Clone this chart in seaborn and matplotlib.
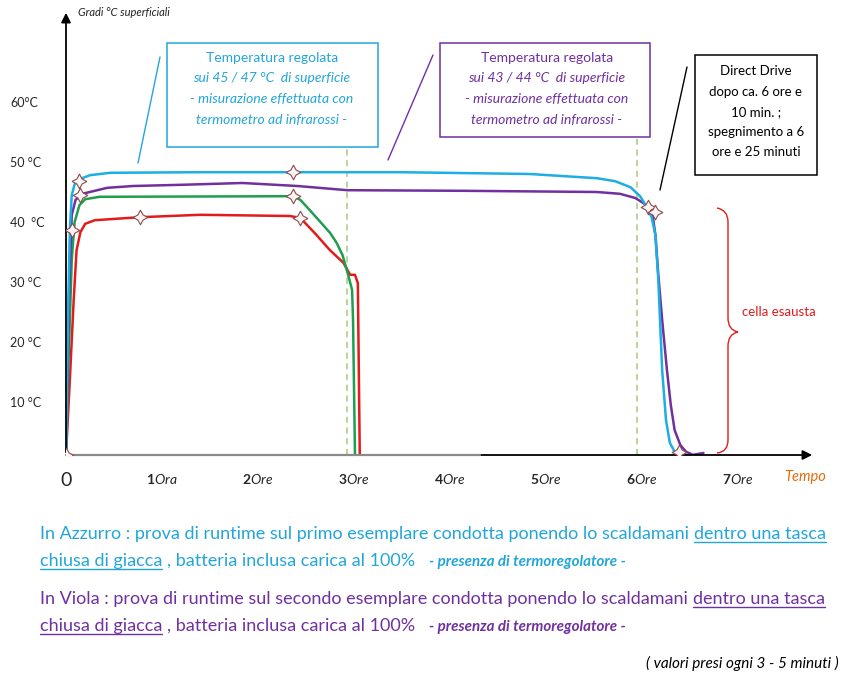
import matplotlib
matplotlib.use("Agg")
import matplotlib.pyplot as plt
import matplotlib.transforms as mtransforms
from matplotlib.lines import Line2D
from matplotlib.patches import Rectangle, PathPatch
from matplotlib.path import Path
import seaborn as sns

# ---- dati (ore, gradi °C) ----
azzurro_ore = [0, 0.02, 0.04, 0.06, 0.09, 0.15, 0.25, 0.46, 1.4, 2.36, 3.48, 4.83, 5.53, 5.72, 5.88,
               5.98, 6.05, 6.1, 6.14, 6.17, 6.21, 6.25, 6.29, 6.34, 6.4, 6.47]
azzurro_temp = [1.2, 23.7, 38.7, 44.5, 46.3, 47.2, 47.8, 48.2, 48.3, 48.3, 48.3, 48.0, 47.3, 46.8, 45.8,
                44.3, 42.5, 40.8, 37.8, 30.3, 15.3, 7.0, 3.2, 1.7, 1.2, 1.2]

viola_ore = [0, 0.03, 0.06, 0.1, 0.17, 0.43, 0.7, 1.2, 1.84, 2.41, 2.93, 4.14, 5.53, 5.77, 5.93, 6.01,
             6.08, 6.11, 6.14, 6.17, 6.21, 6.26, 6.3, 6.34, 6.4, 6.46, 6.53, 6.64]
viola_temp = [1.2, 27.0, 41.2, 43.7, 44.7, 45.7, 46.0, 46.2, 46.5, 46.0, 45.3, 45.2, 45.0, 44.7, 44.0, 43.2,
              42.3, 41.2, 37.8, 31.2, 23.7, 15.3, 9.5, 5.3, 2.8, 1.7, 1.2, 1.5]

verde_ore = [0, 0.03, 0.06, 0.09, 0.14, 0.2, 0.35, 2.36, 2.44, 2.51, 2.65, 2.75, 2.82, 2.88, 2.93, 2.98,
             2.99, 3.01]
verde_temp = [1.2, 18.7, 33.7, 40.0, 42.8, 43.8, 44.2, 44.3, 43.7, 42.5, 40.0, 38.2, 36.5, 34.5, 31.7, 28.7,
              23.7, 1.2]

rosso_ore = [0, 0.04, 0.08, 0.11, 0.15, 0.2, 0.3, 0.77, 1.4, 2.33, 2.44, 2.6, 2.75, 2.89, 2.96, 3.01,
             3.04, 3.06]
rosso_temp = [1.2, 13.7, 27.0, 35.3, 38.3, 39.7, 40.3, 40.8, 41.2, 41.0, 40.7, 38.0, 35.3, 33.2, 31.2,
              31.2, 29.8, 1.2]

# misure (stelline)
misure_ore = [0, 0.06, 0.14, 0.15, 0.77, 2.36, 2.36, 2.44, 6.06, 6.14, 6.39]
misure_temp = [1.2, 38.7, 46.8, 44.5, 40.8, 48.3, 44.3, 40.7, 42.5, 41.7, 1.7]

riferimenti_ore = [2.93, 5.95]

ore_ticks = [0, 1, 2, 3, 4, 5, 6, 7]
ore_labels = ["0", r"$\mathbf{1}\mathit{Ora}$", r"$\mathbf{2}\mathit{Ore}$", r"$\mathbf{3}\mathit{Ore}$",
              r"$\mathbf{4}\mathit{Ore}$", r"$\mathbf{5}\mathit{Ore}$", r"$\mathbf{6}\mathit{Ore}$",
              r"$\mathbf{7}\mathit{Ore}$"]
gradi_ticks = [10, 20, 30, 40, 50, 60]
gradi_labels = ["10 °C", "20 °C", "30 °C", "40  °C", "50 °C", "60°C"]

AZZURRO = "#1DAEE3"
VIOLA = "#7030A0"
VERDE = "#1E9E4E"
ROSSO = "#E31B1B"
TESTO_AZZ = "#22A6DA"

sns.set_style("white")
plt.rcParams["font.family"] = ["Lato", "DejaVu Sans"]
plt.rcParams["mathtext.fontset"] = "custom"
plt.rcParams["mathtext.rm"] = "Lato"
plt.rcParams["mathtext.it"] = "Lato:italic"
plt.rcParams["mathtext.bf"] = "Lato:bold"

fig = plt.figure(figsize=(8.56, 6.85), dpi=100)
W, H = 856, 685
# coordinate in pixel (origine in alto a sinistra) per le annotazioni
PX = mtransforms.Affine2D().scale(1 / W, -1 / H).translate(0, 1) + fig.transFigure

x0, x1, ybot, ytop = 66, 815, 455, 10
ax = fig.add_axes([x0 / W, 1 - ybot / H, (x1 - x0) / W, (ybot - ytop) / H])
px_ora, px_grado, y_zero = 96, 6, 462
ax.set_xlim(0, (x1 - x0) / px_ora)
ax.set_ylim((y_zero - ybot) / px_grado, (y_zero - ytop) / px_grado)
for s in ax.spines.values():
    s.set_visible(False)

# assi con frecce
ax.annotate("", xy=(1, 0), xytext=(0, 0), xycoords="axes fraction",
            arrowprops=dict(arrowstyle="-|>", color="black", lw=1.3, mutation_scale=14))
ax.annotate("", xy=(0, 1), xytext=(0, 0), xycoords="axes fraction",
            arrowprops=dict(arrowstyle="-|>", color="black", lw=1.3, mutation_scale=14))
ax.plot([0, 0.553], [0, 0], transform=ax.transAxes, color="#8a8a8a", lw=1.6, clip_on=False, zorder=3)

# linee guida tratteggiate
for xr, top in zip(riferimenti_ore, [0.692, 0.715]):
    ax.axvline(xr, ymin=0, ymax=top, color="#A6CB78", lw=1.1, ls=(0, (4, 3)))

sns.lineplot(x=rosso_ore, y=rosso_temp, sort=False, estimator=None, color=ROSSO, lw=1.8, ax=ax)
sns.lineplot(x=verde_ore, y=verde_temp, sort=False, estimator=None, color=VERDE, lw=1.8, ax=ax)
sns.lineplot(x=viola_ore, y=viola_temp, sort=False, estimator=None, color=VIOLA, lw=1.8, ax=ax)
sns.lineplot(x=azzurro_ore, y=azzurro_temp, sort=False, estimator=None, color=AZZURRO, lw=1.8, ax=ax)
sns.scatterplot(x=misure_ore, y=misure_temp, marker=(4, 1, 0), s=110, color="#FFF4F4",
                edgecolor="#8B4A4A", linewidth=0.8, zorder=6, ax=ax)

ax.set_xticks(ore_ticks, ore_labels, fontsize=10)
ax.get_xticklabels()[0].set_fontsize(14)
ax.set_yticks(gradi_ticks, gradi_labels, fontsize=9)
ax.tick_params(axis="both", length=0)
ax.tick_params(axis="x", pad=12)
ax.tick_params(axis="y", pad=40)
for lab in ax.get_yticklabels():
    lab.set_horizontalalignment("left")
ax.set_xlabel("")
ax.set_ylabel("")

fig.text(78, 13, "Gradi °C superficiali", transform=PX, ha="left", va="center",
         fontsize=8, style="italic", color="#222222")
fig.text(805, 477, "Tempo", transform=PX, ha="center", va="center",
         fontsize=10.5, style="italic", color="#E46C0A")

# riquadri
fig.add_artist(Rectangle((167, 43), 211, 104, transform=PX, fill=False, ec=TESTO_AZZ, lw=1.1))
fig.add_artist(Rectangle((440, 43), 210, 94, transform=PX, fill=False, ec=VIOLA, lw=1.1))
fig.add_artist(Rectangle((695, 55), 122, 120, transform=PX, fill=False, ec="black", lw=1.1))
fig.add_artist(Line2D([160, 138], [57, 163], transform=PX, color=TESTO_AZZ, lw=1))
fig.add_artist(Line2D([433, 388], [55, 160], transform=PX, color=VIOLA, lw=1))
fig.add_artist(Line2D([687, 660], [67, 190], transform=PX, color="black", lw=1))

righe_box = ["Temperatura regolata", "sui {} °C  di superficie", "- misurazione effettuata con",
             "termometro ad infrarossi -"]
for cx, col, rng in [(272, TESTO_AZZ, "45 / 47"), (547, VIOLA, "43 / 44")]:
    for i, (yy, txt) in enumerate(zip([58, 78, 99, 120], righe_box)):
        fig.text(cx, yy, txt.format(rng), transform=PX, ha="center", va="center", fontsize=10,
                 color=col, style="normal" if i == 0 else "italic")

for yy, txt in zip([71, 92, 112, 132, 152],
                   ["Direct Drive", "dopo ca. 6 ore e", "10 min. ;", "spegnimento a 6", "ore e 25 minuti"]):
    fig.text(756, yy, txt, transform=PX, ha="center", va="center", fontsize=9.5, color="black")

# parentesi graffa
verts = [(717, 208), (728, 210), (728, 222), (728, 318), (728, 330), (738, 332),
         (728, 334), (728, 346), (728, 440), (728, 452), (717, 453)]
codes = [Path.MOVETO, Path.CURVE3, Path.CURVE3, Path.LINETO, Path.CURVE3, Path.CURVE3,
         Path.CURVE3, Path.CURVE3, Path.LINETO, Path.CURVE3, Path.CURVE3]
fig.add_artist(PathPatch(Path(verts, codes), transform=PX, fill=False, ec=ROSSO, lw=1))
fig.text(742, 312, "cella esausta", transform=PX, ha="left", va="center", fontsize=9.5, color=ROSSO)

# testo in basso
renderer = fig.canvas.get_renderer()


def larghezza(txt, **kw):
    t = fig.text(0, 0, txt, transform=PX, **kw)
    w = t.get_window_extent(renderer).width
    t.remove()
    return w


def scrivi_riga(x, y, pezzi):
    for txt, col, kw, sott, gap in pezzi:
        t = fig.text(x, y, txt, transform=PX, ha="left", va="baseline", color=col, **kw)
        w = t.get_window_extent(renderer).width
        if sott:
            fig.add_artist(Line2D([x, x + w], [y + 3, y + 3], transform=PX, color=col, lw=1))
        x += w + gap


base = "In Azzurro : prova di runtime sul primo esemplare condotta ponendo lo scaldamani dentro una tasca"
fs = 10 * 786 / larghezza(base, fontsize=10)
sp = fs * 0.26 * 100 / 72
norm = dict(fontsize=fs)
nota = dict(fontsize=fs * 0.84, style="italic", weight="bold")

for col, nome, ordine, y in [(TESTO_AZZ, "In Azzurro", "primo", 539), (VIOLA, "In Viola", "secondo", 604)]:
    scrivi_riga(40, y, [
        (f"{nome} : prova di runtime sul {ordine} esemplare condotta ponendo lo scaldamani", col, norm, False, sp),
        ("dentro una tasca", col, norm, True, 0)])
    scrivi_riga(40, y + 27, [
        ("chiusa di giacca", col, norm, True, sp),
        (", batteria inclusa carica al 100%", col, norm, False, 3 * sp),
        ("- presenza di termoregolatore -", col, nota, False, 0)])

fig.text(839, 663, "( valori presi ogni 3 - 5 minuti )", transform=PX, ha="right", va="center",
         fontsize=11, style="italic", color="black")

fig.savefig("out.png", dpi=100)
